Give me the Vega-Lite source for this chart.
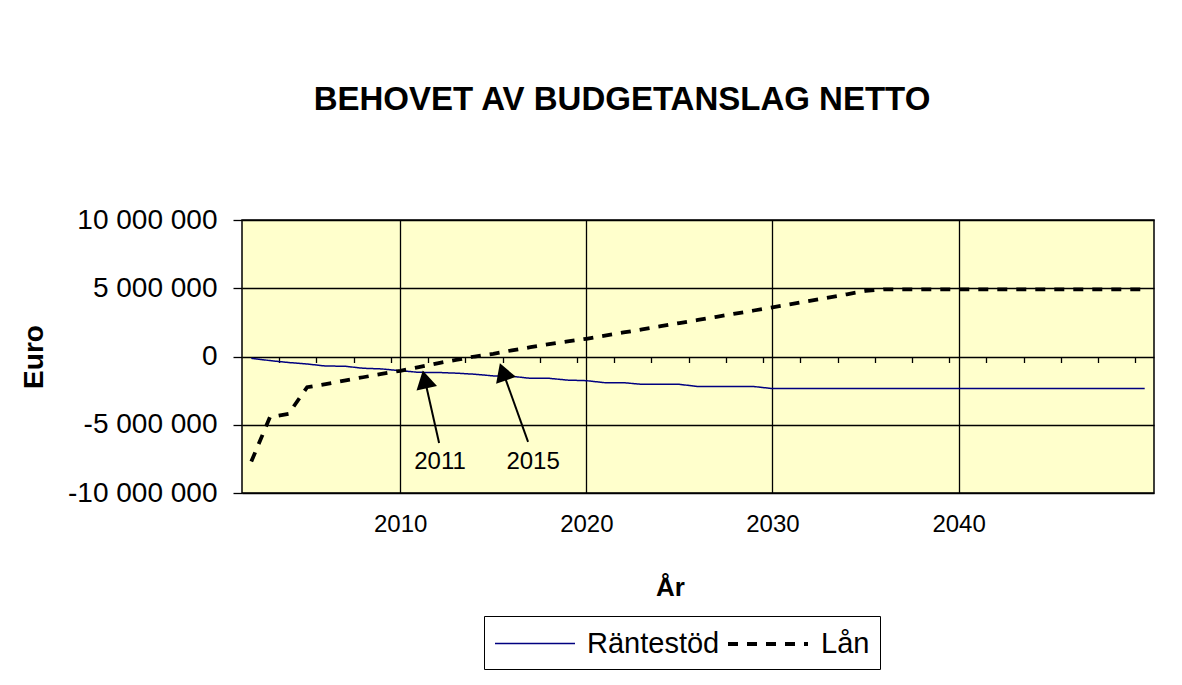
{
  "$schema": "https://vega.github.io/schema/vega-lite/v6.json",
  "width": 912,
  "height": 273,
  "autosize": "none",
  "padding": {"left": 242, "top": 220, "right": 28, "bottom": 192},
  "background": "white",
  "config": {
    "font": "Liberation Sans",
    "view": {"fill": "#FFFFCC", "stroke": "black", "strokeWidth": 1.5}
  },
  "title": {
    "text": "BEHOVET AV BUDGETANSLAG NETTO",
    "fontSize": 33,
    "fontWeight": "bold",
    "font": "Liberation Sans",
    "color": "black",
    "anchor": "middle",
    "frame": "group",
    "dx": -76,
    "offset": 63,
    "baseline": "alphabetic"
  },
  "datasets": {
    "series": [
      {"year": 2002, "serie": "Räntestöd", "value": -130000},
      {"year": 2003, "serie": "Räntestöd", "value": -300000},
      {"year": 2004, "serie": "Räntestöd", "value": -440000},
      {"year": 2005, "serie": "Räntestöd", "value": -550000},
      {"year": 2006, "serie": "Räntestöd", "value": -700000},
      {"year": 2007, "serie": "Räntestöd", "value": -710000},
      {"year": 2008, "serie": "Räntestöd", "value": -860000},
      {"year": 2009, "serie": "Räntestöd", "value": -910000},
      {"year": 2010, "serie": "Räntestöd", "value": -1040000},
      {"year": 2011, "serie": "Räntestöd", "value": -1160000},
      {"year": 2012, "serie": "Räntestöd", "value": -1170000},
      {"year": 2013, "serie": "Räntestöd", "value": -1220000},
      {"year": 2014, "serie": "Räntestöd", "value": -1300000},
      {"year": 2015, "serie": "Räntestöd", "value": -1420000},
      {"year": 2016, "serie": "Räntestöd", "value": -1450000},
      {"year": 2017, "serie": "Räntestöd", "value": -1600000},
      {"year": 2018, "serie": "Räntestöd", "value": -1600000},
      {"year": 2019, "serie": "Räntestöd", "value": -1730000},
      {"year": 2020, "serie": "Räntestöd", "value": -1770000},
      {"year": 2021, "serie": "Räntestöd", "value": -1920000},
      {"year": 2022, "serie": "Räntestöd", "value": -1920000},
      {"year": 2023, "serie": "Räntestöd", "value": -2040000},
      {"year": 2024, "serie": "Räntestöd", "value": -2040000},
      {"year": 2025, "serie": "Räntestöd", "value": -2040000},
      {"year": 2026, "serie": "Räntestöd", "value": -2200000},
      {"year": 2027, "serie": "Räntestöd", "value": -2200000},
      {"year": 2028, "serie": "Räntestöd", "value": -2200000},
      {"year": 2029, "serie": "Räntestöd", "value": -2200000},
      {"year": 2030, "serie": "Räntestöd", "value": -2350000},
      {"year": 2031, "serie": "Räntestöd", "value": -2350000},
      {"year": 2032, "serie": "Räntestöd", "value": -2350000},
      {"year": 2033, "serie": "Räntestöd", "value": -2350000},
      {"year": 2034, "serie": "Räntestöd", "value": -2350000},
      {"year": 2035, "serie": "Räntestöd", "value": -2350000},
      {"year": 2036, "serie": "Räntestöd", "value": -2350000},
      {"year": 2037, "serie": "Räntestöd", "value": -2350000},
      {"year": 2038, "serie": "Räntestöd", "value": -2350000},
      {"year": 2039, "serie": "Räntestöd", "value": -2350000},
      {"year": 2040, "serie": "Räntestöd", "value": -2350000},
      {"year": 2041, "serie": "Räntestöd", "value": -2350000},
      {"year": 2042, "serie": "Räntestöd", "value": -2350000},
      {"year": 2043, "serie": "Räntestöd", "value": -2350000},
      {"year": 2044, "serie": "Räntestöd", "value": -2350000},
      {"year": 2045, "serie": "Räntestöd", "value": -2350000},
      {"year": 2046, "serie": "Räntestöd", "value": -2350000},
      {"year": 2047, "serie": "Räntestöd", "value": -2350000},
      {"year": 2048, "serie": "Räntestöd", "value": -2350000},
      {"year": 2049, "serie": "Räntestöd", "value": -2350000},
      {"year": 2050, "serie": "Räntestöd", "value": -2350000},
      {"year": 2002, "serie": "Lån", "value": -7700000},
      {"year": 2003, "serie": "Lån", "value": -4450000},
      {"year": 2004, "serie": "Lån", "value": -4200000},
      {"year": 2005, "serie": "Lån", "value": -2250000},
      {"year": 2006, "serie": "Lån", "value": -2020000},
      {"year": 2007, "serie": "Lån", "value": -1760000},
      {"year": 2008, "serie": "Lån", "value": -1520000},
      {"year": 2009, "serie": "Lån", "value": -1280000},
      {"year": 2010, "serie": "Lån", "value": -1050000},
      {"year": 2011, "serie": "Lån", "value": -780000},
      {"year": 2012, "serie": "Lån", "value": -500000},
      {"year": 2013, "serie": "Lån", "value": -250000},
      {"year": 2014, "serie": "Lån", "value": 0},
      {"year": 2015, "serie": "Lån", "value": 200000},
      {"year": 2016, "serie": "Lån", "value": 450000},
      {"year": 2017, "serie": "Lån", "value": 680000},
      {"year": 2018, "serie": "Lån", "value": 900000},
      {"year": 2019, "serie": "Lån", "value": 1100000},
      {"year": 2020, "serie": "Lån", "value": 1300000},
      {"year": 2021, "serie": "Lån", "value": 1530000},
      {"year": 2022, "serie": "Lån", "value": 1760000},
      {"year": 2023, "serie": "Lån", "value": 1990000},
      {"year": 2024, "serie": "Lån", "value": 2220000},
      {"year": 2025, "serie": "Lån", "value": 2450000},
      {"year": 2026, "serie": "Lån", "value": 2680000},
      {"year": 2027, "serie": "Lån", "value": 2910000},
      {"year": 2028, "serie": "Lån", "value": 3140000},
      {"year": 2029, "serie": "Lån", "value": 3370000},
      {"year": 2030, "serie": "Lån", "value": 3600000},
      {"year": 2031, "serie": "Lån", "value": 3840000},
      {"year": 2032, "serie": "Lån", "value": 4080000},
      {"year": 2033, "serie": "Lån", "value": 4320000},
      {"year": 2034, "serie": "Lån", "value": 4560000},
      {"year": 2035, "serie": "Lån", "value": 4800000},
      {"year": 2036, "serie": "Lån", "value": 4920000},
      {"year": 2037, "serie": "Lån", "value": 4920000},
      {"year": 2038, "serie": "Lån", "value": 4920000},
      {"year": 2039, "serie": "Lån", "value": 4920000},
      {"year": 2040, "serie": "Lån", "value": 4920000},
      {"year": 2041, "serie": "Lån", "value": 4920000},
      {"year": 2042, "serie": "Lån", "value": 4920000},
      {"year": 2043, "serie": "Lån", "value": 4920000},
      {"year": 2044, "serie": "Lån", "value": 4920000},
      {"year": 2045, "serie": "Lån", "value": 4920000},
      {"year": 2046, "serie": "Lån", "value": 4920000},
      {"year": 2047, "serie": "Lån", "value": 4920000},
      {"year": 2048, "serie": "Lån", "value": 4920000},
      {"year": 2049, "serie": "Lån", "value": 4920000},
      {"year": 2050, "serie": "Lån", "value": 4920000}
    ],
    "arrows": [
      {"label": "2011", "tailYear": 2012.09, "tailValue": -6340000, "headYear": 2011.32, "headValue": -1680000, "textYear": 2012.14, "textValue": -7730000},
      {"label": "2015", "tailYear": 2016.87, "tailValue": -6260000, "headYear": 2015.52, "headValue": -1120000, "textYear": 2017.14, "textValue": -7730000}
    ]
  },
  "resolve": {"axis": {"x": "independent", "y": "independent"}},
  "layer": [
    {
      "data": {"name": "series"},
      "mark": {"type": "line", "strokeCap": "butt"},
      "encoding": {
        "x": {
          "field": "year", "type": "quantitative",
          "scale": {"domain": [2001.5, 2050.5], "nice": false, "zero": false},
          "axis": {
            "orient": "bottom",
            "values": [2010, 2020, 2030, 2040],
            "grid": true, "gridColor": "black", "gridWidth": 1.3, "gridOpacity": 1,
            "domain": false, "ticks": false,
            "labelFontSize": 24, "labelColor": "black", "labelPadding": 19,
            "labelFlush": false, "labelOverlap": false,
            "format": "d",
            "title": "År", "titleFontSize": 26, "titleFontWeight": "bold", "titleColor": "black",
            "titleX": 428, "titleY": 102, "titleAlign": "center", "titleBaseline": "alphabetic"
          }
        },
        "y": {
          "field": "value", "type": "quantitative",
          "scale": {"domain": [-10000000, 10000000], "nice": false, "zero": false},
          "axis": {
            "orient": "left",
            "values": [-10000000, -5000000, 0, 5000000, 10000000],
            "grid": true, "gridColor": "black", "gridWidth": 1.3, "gridOpacity": 1,
            "domain": false,
            "tickColor": "black", "tickSize": 9, "tickWidth": 1.3,
            "labelFontSize": 28, "labelColor": "black", "labelPadding": 16,
            "labelExpr": "replace(replace(format(datum.value, ','), regexp(',', 'g'), ' '), regexp('\u2212', 'g'), '-')",
            "title": "Euro", "titleFontSize": 28, "titleFontWeight": "bold", "titleColor": "black",
            "titleAngle": 270, "titleX": -200, "titleY": 136.5, "titleAlign": "center", "titleBaseline": "alphabetic"
          }
        },
        "color": {
          "field": "serie", "type": "nominal",
          "scale": {"domain": ["Räntestöd", "Lån"], "range": ["#000080", "black"]},
          "legend": {
            "orient": "none", "legendX": 242, "legendY": 396, "direction": "horizontal",
            "title": null, "strokeColor": "black", "fillColor": "white", "padding": 10,
            "labelFontSize": 29, "labelColor": "black", "labelFont": "Liberation Sans",
            "symbolType": "M-1,0H4", "symbolSize": 1024, "labelOffset": 59, "columnPadding": 0
          }
        },
        "strokeDash": {
          "field": "serie", "type": "nominal",
          "scale": {"domain": ["Räntestöd", "Lån"], "range": [[1, 0], [10, 9]]}
        },
        "strokeWidth": {
          "field": "serie", "type": "nominal",
          "scale": {"domain": ["Räntestöd", "Lån"], "range": [1.5, 3.8]}
        }
      }
    },
    {
      "data": {"name": "arrows"},
      "mark": {"type": "rule", "color": "black", "strokeWidth": 2},
      "encoding": {
        "x": {
          "field": "tailYear", "type": "quantitative",
          "scale": {"domain": [2001.5, 2050.5], "nice": false, "zero": false},
          "axis": {
            "orient": "bottom", "offset": -136.5,
            "values": [2003.5, 2005.5, 2007.5, 2009.5, 2011.5, 2013.5, 2015.5, 2017.5, 2019.5, 2021.5, 2023.5, 2025.5, 2027.5, 2029.5, 2031.5, 2033.5, 2035.5, 2037.5, 2039.5, 2041.5, 2043.5, 2045.5, 2047.5, 2049.5],
            "labels": false, "grid": false, "domain": false,
            "ticks": true, "tickSize": 6, "tickColor": "black", "tickWidth": 1.3,
            "title": null
          }
        },
        "y": {
          "field": "tailValue", "type": "quantitative",
          "scale": {"domain": [-10000000, 10000000], "nice": false, "zero": false},
          "axis": null
        },
        "x2": {"field": "headYear"},
        "y2": {"field": "headValue"}
      }
    },
    {
      "data": {"name": "arrows"},
      "transform": [{"filter": "datum.label == '2011'"}],
      "mark": {"type": "point", "shape": "triangle-up", "filled": true, "size": 440, "color": "black", "opacity": 1, "angle": -12.7},
      "encoding": {
        "x": {"field": "headYear", "type": "quantitative", "axis": null},
        "y": {"field": "headValue", "type": "quantitative", "axis": null}
      }
    },
    {
      "data": {"name": "arrows"},
      "transform": [{"filter": "datum.label == '2015'"}],
      "mark": {"type": "point", "shape": "triangle-up", "filled": true, "size": 440, "color": "black", "opacity": 1, "angle": -19.6},
      "encoding": {
        "x": {"field": "headYear", "type": "quantitative", "axis": null},
        "y": {"field": "headValue", "type": "quantitative", "axis": null}
      }
    },
    {
      "data": {"name": "arrows"},
      "mark": {"type": "text", "fontSize": 24, "align": "center", "baseline": "middle", "color": "black"},
      "encoding": {
        "x": {"field": "textYear", "type": "quantitative", "axis": null},
        "y": {"field": "textValue", "type": "quantitative", "axis": null},
        "text": {"field": "label"}
      }
    }
  ]
}
